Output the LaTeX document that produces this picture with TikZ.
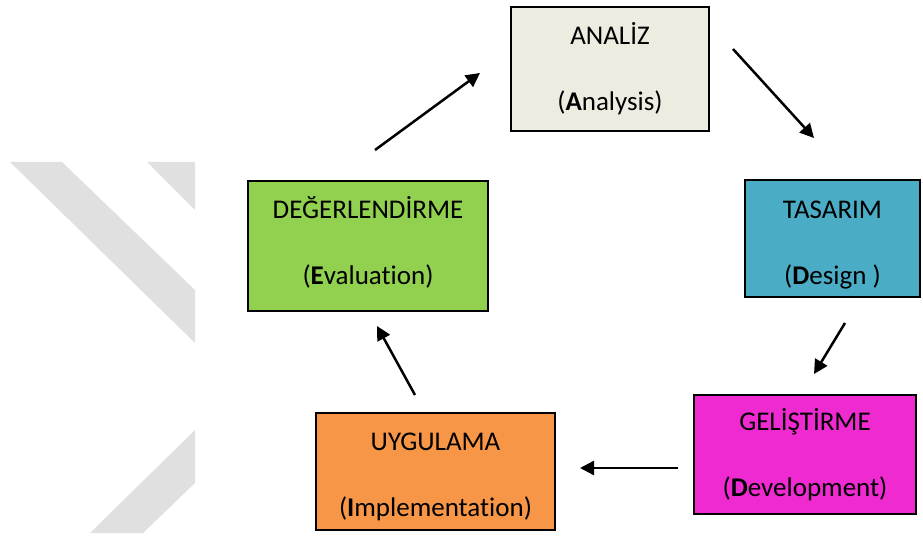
\documentclass[tikz,border=0pt]{standalone}
\usepackage{fontspec}
\setmainfont{Carlito}[Ligatures=NoCommon]
\usepackage{tikz}
\usetikzlibrary{arrows.meta}
\definecolor{analizcol}{HTML}{EEECE1}
\definecolor{tasarimcol}{HTML}{4BACC6}
\definecolor{gelistirmecol}{HTML}{EE2AD0}
\definecolor{uygulamacol}{HTML}{F79646}
\definecolor{degercol}{HTML}{92D050}
\tikzset{
	%	phase/.style={rectangle,draw,minimum size=3em},
	phase/.style={rectangle,draw=black,line width=2pt,align=center,
		font=\fontsize{27}{32}\selectfont},
	phasetext/.style={align=center,font=\fontsize{27}{32}\selectfont},
	edge/.style={-{Triangle[length=14pt,width=14pt]},line width=2.5pt}
}
\begin{document}
\begin{tikzpicture}[x=1pt,y=-1pt]
	\useasboundingbox (0,0) rectangle (923,537);
	% faded stripes on the left
	\fill[black!12] (10,162) -- (62,162) -- (195,290) -- (195,343) -- cycle;
	\fill[black!12] (147,162) -- (195,162) -- (195,210) -- cycle;
	\fill[black!12] (90,533) -- (143,533) -- (195,483) -- (195,430) -- cycle;
	
	\node[phase,fill=analizcol,minimum width=198pt,minimum height=124pt] (analiz) at (610,69) {ANAL\.IZ\\[34pt](\textbf{A}nalysis)};
	\node[phase,fill=tasarimcol,minimum width=175pt,minimum height=117pt] (tasarim) at (832.5,238.5) {};
	\node[phasetext] (tasarimtxt) at (832.5,245.5) {TASARIM\\[34pt](\textbf{D}esign )};
	\node[phase,fill=gelistirmecol,minimum width=222pt,minimum height=119pt] (gelistirme) at (805,454.5) {GEL\.I\c{S}T\.IRME\\[34pt](\textbf{D}evelopment)};
	\node[phase,fill=uygulamacol,minimum width=239pt,minimum height=117pt] (uygulama) at (435.5,471.5) {};
	\node[phasetext] (uygulamatxt) at (435.5,476.5) {UYGULAMA\\[34pt](\textbf{I}mplementation)};
	\node[phase,fill=degercol,minimum width=240pt,minimum height=130pt] (deger) at (368,246) {};
	\node[phasetext] (degertxt) at (368,242) {DE\u{G}ERLEND\.IRME\\[34pt](\textbf{E}valuation)};
	
	\coordinate (a1s) at (375,150);
	\coordinate (a1e) at (480,73);
	\coordinate (a2s) at (733,49);
	\coordinate (a2e) at (814,138);
	\coordinate (a3s) at (845,323);
	\coordinate (a3e) at (814,374);
	\coordinate (a4s) at (678,468);
	\coordinate (a4e) at (580,468);
	\coordinate (a5s) at (415,395);
	\coordinate (a5e) at (377,326);
	
	\draw[edge] (a1s) -- (a1e);
	\draw[edge] (a2s) -- (a2e);
	\draw[edge] (a3s) -- (a3e);
	\draw[edge] (a4s) -- (a4e);
	\draw[edge] (a5s) -- (a5e);
\end{tikzpicture}
\end{document}
